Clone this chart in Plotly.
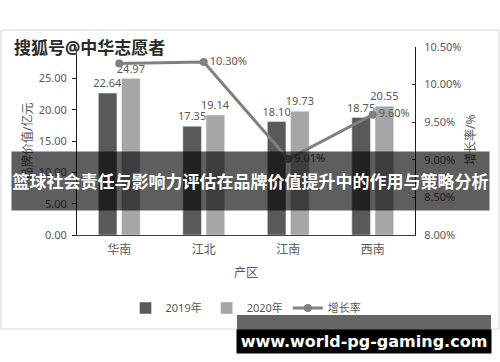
import plotly.graph_objects as go

regions = ["华南", "江北", "江南", "西南"]
value_2019 = [22.64, 17.35, 18.10, 18.75]
value_2020 = [24.97, 19.14, 19.73, 20.55]
growth_rate = [10.28, 10.30, 9.01, 9.60]
growth_labels = ["", "10.30%", "9.01%", "9.60%"]
left_ticks = [0, 5, 10, 15, 20, 25]
right_ticks = [8.0, 8.5, 9.0, 9.5, 10.0, 10.5]

W, H = 500, 362
L, R, T, B = 77, 415, 47, 235


def px(x):
    return (x - L) / (R - L)


def py(y):
    return (B - y) / (B - T)


FONT = "Noto Sans, Noto Sans CJK SC, sans-serif"
TXT = "#595959"

fig = go.Figure()
fig.add_trace(go.Bar(
    x=regions, y=value_2019, name="2019年", marker_color="#595959",
    text=[f"{v:.2f}" for v in value_2019], textposition="outside",
    textfont=dict(size=11, color=TXT), cliponaxis=False, constraintext="none",
))
fig.add_trace(go.Bar(
    x=regions, y=value_2020, name="2020年", marker_color="#a6a6a6",
    text=[f"{v:.2f}" for v in value_2020], textposition="outside",
    textfont=dict(size=11, color=TXT), cliponaxis=False, constraintext="none",
))
fig.add_trace(go.Scatter(
    x=regions, y=growth_rate, name="增长率", yaxis="y2",
    mode="lines+markers+text", line=dict(color="#808080", width=3),
    marker=dict(size=8, color="#808080"),
    text=growth_labels, textposition="middle right",
    textfont=dict(size=11, color=TXT), cliponaxis=False,
))

fig.update_layout(
    width=W, height=H,
    margin=dict(l=L, r=W - R, t=T, b=H - B, pad=0),
    paper_bgcolor="white", plot_bgcolor="white",
    font=dict(family=FONT, size=11, color=TXT),
    barmode="group", bargap=0.45, bargroupgap=0.2,
    showlegend=True,
    legend=dict(orientation="h", x=0.5, xanchor="center", y=py(308), yanchor="middle",
                font=dict(size=11, color=TXT), bgcolor="rgba(0,0,0,0)",
                itemwidth=30, tracegroupgap=0),
    xaxis=dict(showline=True, linecolor="#404040", linewidth=1, ticks="",
               tickfont=dict(size=12, color=TXT), ticklabelstandoff=4,
               showgrid=False, zeroline=False, fixedrange=True),
    yaxis=dict(range=[0, 30], tickvals=left_ticks,
               ticktext=[f"{v:.2f}" for v in left_ticks], showline=True,
               linecolor="#202020", linewidth=1, ticks="outside", ticklen=4,
               tickcolor="#202020", showgrid=False, zeroline=False,
               tickfont=dict(size=11, color=TXT), ticklabelstandoff=3),
    yaxis2=dict(range=[8, 10.5], tickvals=right_ticks,
                ticktext=[f"{v:.2f}%" for v in right_ticks],
                overlaying="y", side="right", showline=True, linecolor="#202020",
                linewidth=1, ticks="inside", ticklen=3, tickcolor="#202020",
                showgrid=False, zeroline=False,
                tickfont=dict(size=11, color=TXT), ticklabelstandoff=6),
)

C = dict(xref="paper", yref="paper", xanchor="center", yanchor="middle", showarrow=False)
annotations = [
    dict(C, x=px(27), y=py(141), text="品牌价值/亿元", textangle=-90,
         font=dict(size=12, color=TXT)),
    dict(C, x=px(470), y=py(140), text="增长率/%", textangle=-90,
         font=dict(size=12, color=TXT)),
    dict(C, x=px(246), y=py(272), text="产区", font=dict(size=12, color=TXT)),
    dict(C, x=px(12), y=py(47), text="<b>搜狐号@中华志愿者</b>", xanchor="left",
         font=dict(size=17, color="#2b2b2b", shadow="0 0 2px #ffffff")),
    dict(C, x=px(250.5), y=py(181), text="<b>篮球社会责任与影响力评估在品牌价值提升中的作用与策略分析</b>",
         width=477, height=58, bgcolor="rgba(0,0,0,0.63)", borderpad=0,
         align="center", valign="middle", font=dict(size=17, color="white")),
    dict(C, x=px(364), y=py(341.5), text="<b>www.world-pg-gaming.com</b>",
         width=254, height=23, bgcolor="black", borderpad=0,
         font=dict(size=16, color="white", family="DejaVu Sans, sans-serif")),
]
fig.update_layout(annotations=annotations)

fig.update_layout(shapes=[
    dict(type="rect", xref="paper", yref="paper", x0=px(1), x1=px(499), y0=py(329), y1=py(30),
         line=dict(color="#d9d9d9", width=1), fillcolor="rgba(0,0,0,0)", layer="below"),
    dict(type="rect", xref="paper", yref="paper", x0=px(237), x1=px(491), y0=py(330), y1=py(315),
         line=dict(width=0), fillcolor="#666666", layer="above"),
])

fig.write_html("out.html")
